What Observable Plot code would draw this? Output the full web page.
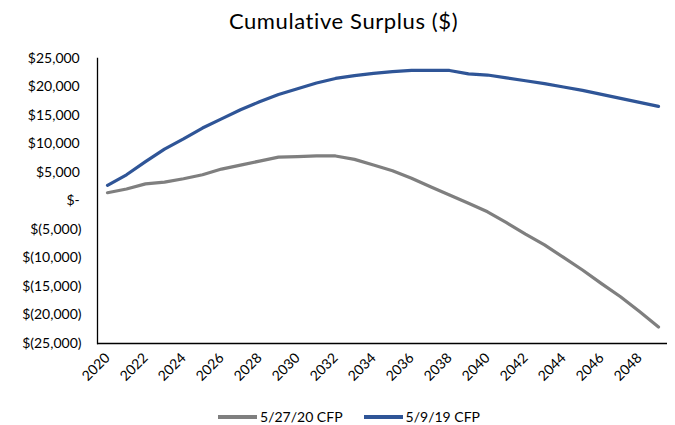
<!DOCTYPE html>
<html>
<head>
<meta charset="utf-8">
<script src="https://cdn.jsdelivr.net/npm/d3@7"></script>
<script src="https://cdn.jsdelivr.net/npm/@observablehq/plot@0.6"></script>
<style>
  html, body { margin: 0; padding: 0; background: #fff; }
  body { width: 675px; height: 425px; overflow: hidden; font-family: Lato, "Open Sans", sans-serif; }
  #title { height: 36px; line-height: 42px; text-align: center; font-size: 22px; letter-spacing: 0.6px; color: #000; padding-left: 12px; }
  #legend { display: flex; justify-content: center; align-items: center; gap: 21px; font-size: 14px; color: #000; margin-left: 23px; margin-top: 12px; }
  .item { display: flex; align-items: center; gap: 3px; }
  .sw { width: 39px; height: 4px; }
</style>
</head>
<body>
<div id="title">Cumulative Surplus ($)</div>
<div id="chart"></div>
<div id="legend"></div>
<script>
const years = d3.range(2020, 2050);
const seriesNames = ["5/27/20 CFP", "5/9/19 CFP"];
const seriesColors = ["#7f7f7f", "#2f5597"];
const cfp2020 = [1450, 2100, 3000, 3300, 3900, 4600, 5600, 6300, 7000, 7700,
                 7800, 7900, 7900, 7300, 6300, 5300, 4000, 2500, 1050, -400,
                 -1900, -3800, -5800, -7700, -9900, -12100, -14500, -16800, -19400, -22100];
const cfp2019 = [2750, 4600, 6900, 9100, 10900, 12800, 14400, 16000, 17400, 18700,
                 19700, 20700, 21500, 22000, 22400, 22700, 22900, 22900, 22900, 22300,
                 22100, 21600, 21100, 20600, 20000, 19400, 18700, 18000, 17300, 16600];
const yTicks = d3.range(-25000, 25001, 5000);
const xTicks = d3.range(2020, 2049, 2);

const data = [];
years.forEach((yr, i) => {
  data.push({year: yr, value: cfp2020[i], series: seriesNames[0]});
  data.push({year: yr, value: cfp2019[i], series: seriesNames[1]});
});

const fmt = d3.format(",");
const yFormat = v => v === 0 ? "$-\u2009" : v < 0 ? `$(${fmt(-v)})` : `$${fmt(v)}\u2009`;

const chart = Plot.plot({
  width: 675,
  height: 360,
  marginLeft: 97,
  marginRight: 8,
  marginTop: 22,
  marginBottom: 53,
  style: {fontFamily: "Lato, 'Open Sans', sans-serif", fontSize: "14px", color: "#000", background: "#fff"},
  x: {type: "point", domain: years, padding: 0.5, ticks: xTicks, tickSize: 0, tickPadding: 12, tickRotate: -45, tickFormat: d => String(d), label: null},
  y: {domain: [-25000, 25000], ticks: yTicks, tickSize: 0, tickPadding: 16, tickFormat: yFormat, label: null},
  color: {domain: seriesNames, range: seriesColors},
  marks: [
    Plot.ruleY([-25000], {stroke: "#000", strokeWidth: 1.3}),
    Plot.frame({anchor: "left", stroke: "#000", strokeWidth: 1.3}),
    Plot.line(data, {x: "year", y: "value", z: "series", stroke: "series", strokeWidth: 3.2, strokeLinecap: "round", strokeLinejoin: "round"})
  ]
});
document.getElementById("chart").appendChild(chart);

const legend = document.getElementById("legend");
seriesNames.forEach((name, i) => {
  const item = document.createElement("div");
  item.className = "item";
  item.innerHTML = `<div class="sw" style="background:${seriesColors[i]}"></div><span>${name}</span>`;
  legend.appendChild(item);
});
</script>
</body>
</html>
